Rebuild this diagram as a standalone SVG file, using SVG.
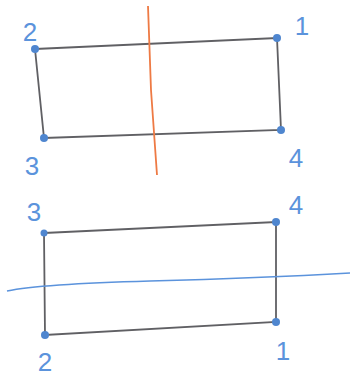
<svg xmlns="http://www.w3.org/2000/svg" width="359" height="381" viewBox="0 0 359 381">
<style>
.edge{fill:none;stroke:#606064;stroke-width:1.8;stroke-linecap:round}
.pt{fill:#4f86cf}
.lbl{font-family:"Liberation Sans",Arial,sans-serif;font-size:26px;fill:#5b93dc;text-anchor:middle}
</style>
<rect width="359" height="381" fill="#ffffff"/>
<g id="connectors">
<path class="edge" d="M35,49 L277,38 L281,130 L44,138 Z"/>
<path class="edge" d="M44,233 L276,222 L276,322 L45,335 Z"/>
<path d="M148,6 L151,90 L157,175" fill="none" stroke="#ee7a44" stroke-width="1.8"/>
<path d="M7,291 Q40,284 150,281 T350,273" fill="none" stroke="#5b93dc" stroke-width="1.6"/>
</g>
<g id="top-2"><circle class="pt" cx="35" cy="49" r="4"/><text class="lbl" x="30" y="41">2</text></g>
<g id="top-1"><circle class="pt" cx="277" cy="38" r="4"/><text class="lbl" x="302" y="35">1</text></g>
<g id="top-3"><circle class="pt" cx="44" cy="138" r="4"/><text class="lbl" x="32" y="175">3</text></g>
<g id="top-4"><circle class="pt" cx="281" cy="130" r="4"/><text class="lbl" x="296" y="167">4</text></g>
<g id="bot-3"><circle class="pt" cx="44" cy="233" r="3.5"/><text class="lbl" x="34" y="221">3</text></g>
<g id="bot-4"><circle class="pt" cx="276" cy="222" r="4"/><text class="lbl" x="296" y="214">4</text></g>
<g id="bot-2"><circle class="pt" cx="45" cy="335" r="4"/><text class="lbl" x="45" y="371">2</text></g>
<g id="bot-1"><circle class="pt" cx="276" cy="322" r="4"/><text class="lbl" x="283" y="360">1</text></g>
</svg>
